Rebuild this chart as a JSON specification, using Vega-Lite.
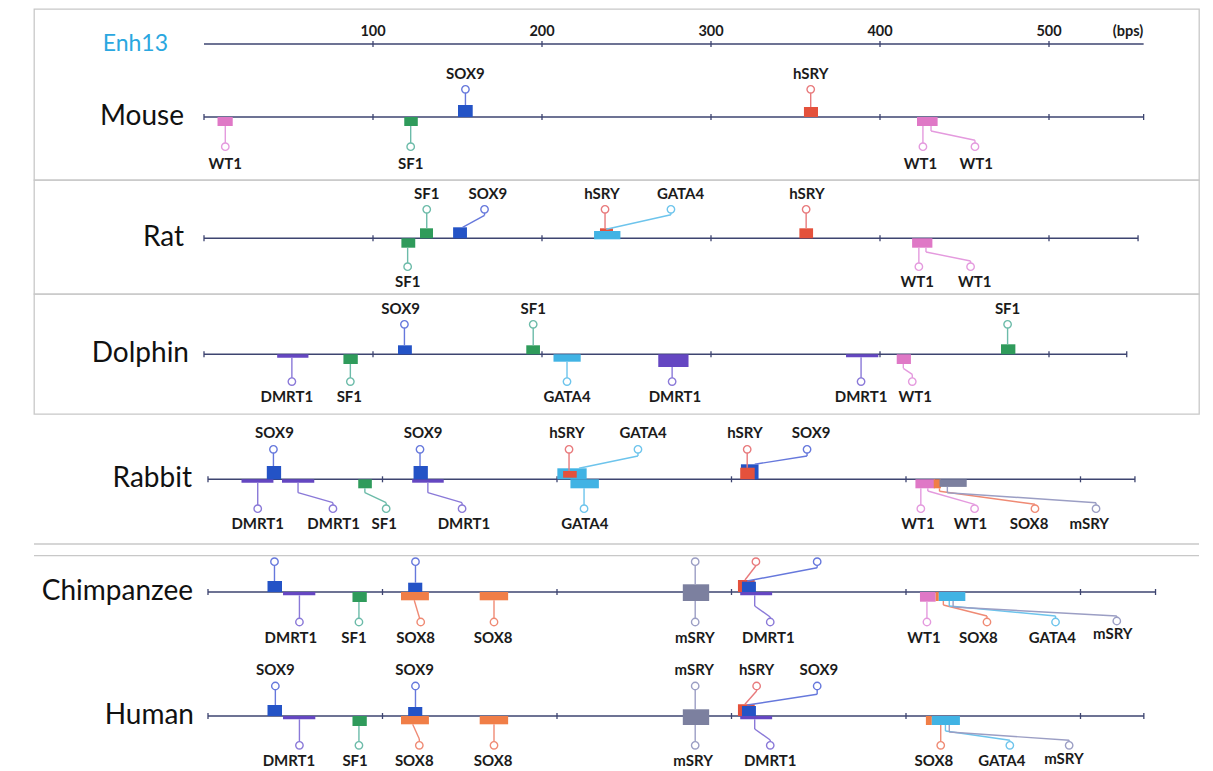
{
"$schema":"https://vega.github.io/schema/vega-lite/v6.json",
"padding":{"left":33,"top":8,"right":15,"bottom":0},
"spacing":0,
"bounds":"flush",
"config":{"axis":{"disable":true},"legend":{"disable":true},"text":{"font":"Lato"}},
"resolve":{"scale":{"x":"independent","y":"independent"}},
"datasets":{
"tracks":[
{"sp":"Enh13","s":0,"e":556},
{"sp":"Mouse","s":0,"e":556},
{"sp":"Rat","s":0,"e":552.7},
{"sp":"Dolphin","s":0,"e":546},
{"sp":"Rabbit","s":0,"e":531.2},
{"sp":"Chimpanzee","s":0,"e":543},
{"sp":"Human","s":0,"e":536.3}
],
"ticks":[
{"sp":"Enh13","bp":100},{"sp":"Enh13","bp":200},{"sp":"Enh13","bp":300},{"sp":"Enh13","bp":400},{"sp":"Enh13","bp":500},
{"sp":"Mouse","bp":0},{"sp":"Mouse","bp":100},{"sp":"Mouse","bp":200},{"sp":"Mouse","bp":300},{"sp":"Mouse","bp":400},{"sp":"Mouse","bp":500},{"sp":"Mouse","bp":556},
{"sp":"Rat","bp":0},{"sp":"Rat","bp":100},{"sp":"Rat","bp":200},{"sp":"Rat","bp":300},{"sp":"Rat","bp":400},{"sp":"Rat","bp":500},{"sp":"Rat","bp":552.7},
{"sp":"Dolphin","bp":0},{"sp":"Dolphin","bp":100},{"sp":"Dolphin","bp":200},{"sp":"Dolphin","bp":300},{"sp":"Dolphin","bp":400},{"sp":"Dolphin","bp":500},{"sp":"Dolphin","bp":546},
{"sp":"Rabbit","bp":0},{"sp":"Rabbit","bp":100},{"sp":"Rabbit","bp":200},{"sp":"Rabbit","bp":300},{"sp":"Rabbit","bp":400},{"sp":"Rabbit","bp":500},{"sp":"Rabbit","bp":531.2},
{"sp":"Chimpanzee","bp":0},{"sp":"Chimpanzee","bp":100},{"sp":"Chimpanzee","bp":200},{"sp":"Chimpanzee","bp":300},{"sp":"Chimpanzee","bp":400},{"sp":"Chimpanzee","bp":500},{"sp":"Chimpanzee","bp":543},
{"sp":"Human","bp":0},{"sp":"Human","bp":100},{"sp":"Human","bp":200},{"sp":"Human","bp":300},{"sp":"Human","bp":400},{"sp":"Human","bp":500},{"sp":"Human","bp":536.3}
],
"rl":[{"bp":100,"t":"100"},{"bp":200,"t":"200"},{"bp":300,"t":"300"},{"bp":400,"t":"400"},{"bp":500,"t":"500"},{"bp":546.7,"t":"(bps)"}],
"sites":[
{"sp":"Mouse","f":"WT1","s":8,"e":17,"lo":-9,"hi":0},
{"sp":"Mouse","f":"SF1","s":118.5,"e":126.5,"lo":-9,"hi":0},
{"sp":"Mouse","f":"SOX9","s":150.3,"e":159,"lo":0,"hi":12},
{"sp":"Mouse","f":"hSRY","s":355,"e":363.3,"lo":0,"hi":10},
{"sp":"Mouse","f":"WT1","s":421.9,"e":434.1,"lo":-9,"hi":0},
{"sp":"Rat","f":"SF1","s":116.8,"e":125,"lo":-9.4,"hi":0},
{"sp":"Rat","f":"SF1","s":127.8,"e":135.5,"lo":0,"hi":10},
{"sp":"Rat","f":"SOX9","s":147.4,"e":155.6,"lo":0,"hi":11},
{"sp":"Rat","f":"GATA4","s":230.8,"e":246.4,"lo":-1,"hi":7.3},
{"sp":"Rat","f":"hSRY","s":234.3,"e":242,"lo":7.3,"hi":10},
{"sp":"Rat","f":"hSRY","s":352.3,"e":360.4,"lo":0,"hi":10},
{"sp":"Rat","f":"WT1","s":419,"e":431,"lo":-9.4,"hi":0},
{"sp":"Dolphin","f":"DMRT1","s":43.3,"e":61.8,"lo":-3.4,"hi":0},
{"sp":"Dolphin","f":"SF1","s":82.5,"e":91,"lo":-9.7,"hi":0},
{"sp":"Dolphin","f":"SOX9","s":114.8,"e":123,"lo":0,"hi":9},
{"sp":"Dolphin","f":"SF1","s":190.7,"e":198.8,"lo":0,"hi":9},
{"sp":"Dolphin","f":"GATA4","s":206.8,"e":222.9,"lo":-7.4,"hi":0},
{"sp":"Dolphin","f":"DMRT1","s":268.8,"e":286.7,"lo":-12.7,"hi":0},
{"sp":"Dolphin","f":"DMRT1","s":379.9,"e":399,"lo":-3,"hi":0},
{"sp":"Dolphin","f":"WT1","s":409.9,"e":418.3,"lo":-9.7,"hi":0},
{"sp":"Dolphin","f":"SF1","s":471.6,"e":480.1,"lo":0,"hi":10},
{"sp":"Rabbit","f":"DMRT1","s":19.2,"e":37.5,"lo":-3.4,"hi":0},
{"sp":"Rabbit","f":"SOX9","s":33.7,"e":41.9,"lo":0,"hi":13.3},
{"sp":"Rabbit","f":"DMRT1","s":42.4,"e":60.9,"lo":-3.4,"hi":0},
{"sp":"Rabbit","f":"SF1","s":86.1,"e":93.9,"lo":-9,"hi":0},
{"sp":"Rabbit","f":"DMRT1","s":117,"e":135.1,"lo":-3.4,"hi":0},
{"sp":"Rabbit","f":"SOX9","s":117.8,"e":126,"lo":0,"hi":13.3},
{"sp":"Rabbit","f":"GATA4","s":200.2,"e":217,"lo":0,"hi":11},
{"sp":"Rabbit","f":"hSRY","s":203.5,"e":211.3,"lo":1.6,"hi":8.3},
{"sp":"Rabbit","f":"GATA4","s":207.7,"e":224,"lo":-9,"hi":0},
{"sp":"Rabbit","f":"SOX9","s":305.4,"e":315.5,"lo":0,"hi":15},
{"sp":"Rabbit","f":"hSRY","s":305,"e":313.3,"lo":0,"hi":11.6},
{"sp":"Rabbit","f":"WT1","s":405.4,"e":416.6,"lo":-9,"hi":0},
{"sp":"Rabbit","f":"SOX8","s":415.9,"e":420,"lo":-9,"hi":0},
{"sp":"Rabbit","f":"mSRY","s":419.2,"e":434.8,"lo":-7.6,"hi":0},
{"sp":"Chimpanzee","f":"SOX9","s":34.1,"e":42.4,"lo":0,"hi":11},
{"sp":"Chimpanzee","f":"DMRT1","s":43,"e":61.5,"lo":-3.3,"hi":0},
{"sp":"Chimpanzee","f":"SF1","s":82.8,"e":91,"lo":-10,"hi":0},
{"sp":"Chimpanzee","f":"SOX9","s":114.7,"e":122.8,"lo":0,"hi":9.3},
{"sp":"Chimpanzee","f":"SOX8","s":110.6,"e":126.6,"lo":-8.3,"hi":0},
{"sp":"Chimpanzee","f":"SOX8","s":155.7,"e":172,"lo":-8.3,"hi":0},
{"sp":"Chimpanzee","f":"mSRY","s":272.1,"e":287.2,"lo":-9,"hi":7.7},
{"sp":"Chimpanzee","f":"hSRY","s":303.7,"e":313.3,"lo":0,"hi":12},
{"sp":"Chimpanzee","f":"SOX9","s":306,"e":314,"lo":0,"hi":10.3},
{"sp":"Chimpanzee","f":"DMRT1","s":305,"e":323.3,"lo":-3.3,"hi":0},
{"sp":"Chimpanzee","f":"WT1","s":408,"e":417,"lo":-9.7,"hi":0},
{"sp":"Chimpanzee","f":"SOX8","s":417,"e":418.8,"lo":-9,"hi":0},
{"sp":"Chimpanzee","f":"GATA4","s":418.8,"e":434,"lo":-9,"hi":0},
{"sp":"Human","f":"SOX9","s":34.1,"e":42.4,"lo":0,"hi":11},
{"sp":"Human","f":"DMRT1","s":43,"e":61.5,"lo":-3.3,"hi":0},
{"sp":"Human","f":"SF1","s":82.8,"e":91,"lo":-10,"hi":0},
{"sp":"Human","f":"SOX9","s":114.7,"e":122.8,"lo":0,"hi":9},
{"sp":"Human","f":"SOX8","s":110.6,"e":126.6,"lo":-8.3,"hi":0},
{"sp":"Human","f":"SOX8","s":155.7,"e":172,"lo":-8.3,"hi":0},
{"sp":"Human","f":"mSRY","s":272.1,"e":287.2,"lo":-9,"hi":6.7},
{"sp":"Human","f":"hSRY","s":303.7,"e":313.3,"lo":0,"hi":11.7},
{"sp":"Human","f":"SOX9","s":306,"e":314,"lo":0,"hi":10},
{"sp":"Human","f":"DMRT1","s":305,"e":323.3,"lo":-3.3,"hi":0},
{"sp":"Human","f":"SOX8","s":411.4,"e":414.8,"lo":-9,"hi":0},
{"sp":"Human","f":"GATA4","s":414.8,"e":430.9,"lo":-9,"hi":0}
],
"links":[
{"sp":"Mouse","f":"WT1","x1":12.6,"y1":-9,"x2":12.6,"y2":-29.7},
{"sp":"Mouse","f":"SF1","x1":122.3,"y1":-9,"x2":122.3,"y2":-29.7},
{"sp":"Mouse","f":"SOX9","x1":154.7,"y1":12,"x2":154.7,"y2":27.7},
{"sp":"Mouse","f":"hSRY","x1":359,"y1":10,"x2":359,"y2":27.7},
{"sp":"Mouse","f":"WT1","x1":425.4,"y1":-9,"x2":425.4,"y2":-29.7},
{"sp":"Mouse","f":"WT1","x1":430.2,"y1":-9,"x2":430.2,"y2":-14},
{"sp":"Mouse","f":"WT1","x1":430.2,"y1":-14,"x2":456.2,"y2":-23.3},
{"sp":"Mouse","f":"WT1","x1":456.2,"y1":-23.3,"x2":456.2,"y2":-29.7},
{"sp":"Rat","f":"SF1","x1":120.5,"y1":-9.4,"x2":120.5,"y2":-28.4},
{"sp":"Rat","f":"SF1","x1":131.8,"y1":10,"x2":131.8,"y2":29},
{"sp":"Rat","f":"SOX9","x1":153,"y1":11,"x2":166,"y2":23},
{"sp":"Rat","f":"SOX9","x1":166,"y1":23,"x2":166,"y2":29},
{"sp":"Rat","f":"hSRY","x1":237.3,"y1":10,"x2":237.3,"y2":29},
{"sp":"Rat","f":"GATA4","x1":238,"y1":9,"x2":276.3,"y2":23.5},
{"sp":"Rat","f":"GATA4","x1":276.3,"y1":23.5,"x2":276.3,"y2":29},
{"sp":"Rat","f":"hSRY","x1":356.3,"y1":10,"x2":356.3,"y2":29},
{"sp":"Rat","f":"WT1","x1":423,"y1":-9.4,"x2":423,"y2":-28.4},
{"sp":"Rat","f":"WT1","x1":427.2,"y1":-9.4,"x2":427.2,"y2":-13.7},
{"sp":"Rat","f":"WT1","x1":427.2,"y1":-13.7,"x2":453.6,"y2":-22.7},
{"sp":"Rat","f":"WT1","x1":453.6,"y1":-22.7,"x2":453.6,"y2":-28.4},
{"sp":"Dolphin","f":"DMRT1","x1":52,"y1":-3.4,"x2":52,"y2":-27.3},
{"sp":"Dolphin","f":"SF1","x1":86.6,"y1":-9.7,"x2":86.6,"y2":-27.3},
{"sp":"Dolphin","f":"SOX9","x1":118.6,"y1":9,"x2":118.6,"y2":30},
{"sp":"Dolphin","f":"SF1","x1":194.8,"y1":9,"x2":194.8,"y2":30},
{"sp":"Dolphin","f":"GATA4","x1":214.8,"y1":-7.4,"x2":214.8,"y2":-27.3},
{"sp":"Dolphin","f":"DMRT1","x1":277,"y1":-12.7,"x2":277,"y2":-27.3},
{"sp":"Dolphin","f":"DMRT1","x1":388.8,"y1":-3,"x2":388.8,"y2":-27.3},
{"sp":"Dolphin","f":"WT1","x1":413.8,"y1":-9.7,"x2":413.8,"y2":-14},
{"sp":"Dolphin","f":"WT1","x1":413.8,"y1":-14,"x2":419.1,"y2":-20},
{"sp":"Dolphin","f":"WT1","x1":419.1,"y1":-20,"x2":419.1,"y2":-27.3},
{"sp":"Dolphin","f":"SF1","x1":475.5,"y1":10,"x2":475.5,"y2":30},
{"sp":"Rabbit","f":"SOX9","x1":37.5,"y1":13.3,"x2":37.5,"y2":30},
{"sp":"Rabbit","f":"DMRT1","x1":28.5,"y1":-3.4,"x2":28.5,"y2":-29.4},
{"sp":"Rabbit","f":"DMRT1","x1":51.6,"y1":-3.4,"x2":51.6,"y2":-13.4},
{"sp":"Rabbit","f":"DMRT1","x1":51.6,"y1":-13.4,"x2":71.6,"y2":-23.4},
{"sp":"Rabbit","f":"DMRT1","x1":71.6,"y1":-23.4,"x2":71.6,"y2":-29.4},
{"sp":"Rabbit","f":"SF1","x1":89.9,"y1":-9,"x2":89.9,"y2":-13.4},
{"sp":"Rabbit","f":"SF1","x1":89.9,"y1":-13.4,"x2":102.1,"y2":-23.4},
{"sp":"Rabbit","f":"SF1","x1":102.1,"y1":-23.4,"x2":102.1,"y2":-29.4},
{"sp":"Rabbit","f":"SOX9","x1":121.5,"y1":13.3,"x2":121.5,"y2":30},
{"sp":"Rabbit","f":"DMRT1","x1":126,"y1":-3.4,"x2":126,"y2":-13.4},
{"sp":"Rabbit","f":"DMRT1","x1":126,"y1":-13.4,"x2":145.6,"y2":-23.4},
{"sp":"Rabbit","f":"DMRT1","x1":145.6,"y1":-23.4,"x2":145.6,"y2":-29.4},
{"sp":"Rabbit","f":"hSRY","x1":206.9,"y1":8.3,"x2":206.9,"y2":30},
{"sp":"Rabbit","f":"GATA4","x1":212.6,"y1":11,"x2":246.4,"y2":23.3},
{"sp":"Rabbit","f":"GATA4","x1":246.4,"y1":23.3,"x2":246.4,"y2":30},
{"sp":"Rabbit","f":"GATA4","x1":215.5,"y1":-9,"x2":215.5,"y2":-29.4},
{"sp":"Rabbit","f":"hSRY","x1":309,"y1":11.6,"x2":309,"y2":30},
{"sp":"Rabbit","f":"SOX9","x1":313.3,"y1":15,"x2":343.3,"y2":23.3},
{"sp":"Rabbit","f":"SOX9","x1":343.3,"y1":23.3,"x2":343.3,"y2":30},
{"sp":"Rabbit","f":"WT1","x1":408.5,"y1":-9,"x2":408.5,"y2":-29.4},
{"sp":"Rabbit","f":"WT1","x1":412.5,"y1":-9,"x2":412.5,"y2":-11.7},
{"sp":"Rabbit","f":"WT1","x1":412.5,"y1":-11.7,"x2":439.3,"y2":-25},
{"sp":"Rabbit","f":"WT1","x1":439.3,"y1":-25,"x2":439.3,"y2":-29.4},
{"sp":"Rabbit","f":"SOX8","x1":419.2,"y1":-9,"x2":419.2,"y2":-12},
{"sp":"Rabbit","f":"SOX8","x1":419.2,"y1":-12,"x2":473.9,"y2":-25},
{"sp":"Rabbit","f":"SOX8","x1":473.9,"y1":-25,"x2":473.9,"y2":-29.4},
{"sp":"Rabbit","f":"mSRY","x1":423.7,"y1":-7.6,"x2":423.7,"y2":-13.4},
{"sp":"Rabbit","f":"mSRY","x1":423.7,"y1":-13.4,"x2":508.9,"y2":-23.4},
{"sp":"Rabbit","f":"mSRY","x1":508.9,"y1":-23.4,"x2":508.9,"y2":-29.4},
{"sp":"Chimpanzee","f":"SOX9","x1":38.1,"y1":11,"x2":38.1,"y2":30.3},
{"sp":"Chimpanzee","f":"DMRT1","x1":52.4,"y1":-3.3,"x2":52.4,"y2":-30},
{"sp":"Chimpanzee","f":"SF1","x1":86.5,"y1":-10,"x2":86.5,"y2":-30},
{"sp":"Chimpanzee","f":"SOX9","x1":118.9,"y1":9.3,"x2":118.9,"y2":30.3},
{"sp":"Chimpanzee","f":"SOX8","x1":118.2,"y1":-8.3,"x2":121.9,"y2":-30},
{"sp":"Chimpanzee","f":"SOX8","x1":163.9,"y1":-8.3,"x2":163.9,"y2":-30},
{"sp":"Chimpanzee","f":"mSRY","x1":279.2,"y1":7.7,"x2":279.2,"y2":30.3},
{"sp":"Chimpanzee","f":"mSRY","x1":279.2,"y1":-9,"x2":279.2,"y2":-30},
{"sp":"Chimpanzee","f":"hSRY","x1":307.7,"y1":12,"x2":314,"y2":26.3},
{"sp":"Chimpanzee","f":"hSRY","x1":314,"y1":26.3,"x2":314,"y2":30.3},
{"sp":"Chimpanzee","f":"SOX9","x1":309,"y1":11,"x2":349.1,"y2":24.3},
{"sp":"Chimpanzee","f":"SOX9","x1":349.1,"y1":24.3,"x2":349.1,"y2":30.3},
{"sp":"Chimpanzee","f":"DMRT1","x1":313.3,"y1":-3.3,"x2":313.3,"y2":-14},
{"sp":"Chimpanzee","f":"DMRT1","x1":313.3,"y1":-14,"x2":322.2,"y2":-25},
{"sp":"Chimpanzee","f":"DMRT1","x1":322.2,"y1":-25,"x2":322.2,"y2":-30},
{"sp":"Chimpanzee","f":"WT1","x1":412,"y1":-9.7,"x2":412,"y2":-30},
{"sp":"Chimpanzee","f":"SOX8","x1":421.4,"y1":-9,"x2":421.4,"y2":-13},
{"sp":"Chimpanzee","f":"SOX8","x1":421.4,"y1":-13,"x2":446.4,"y2":-24},
{"sp":"Chimpanzee","f":"SOX8","x1":446.4,"y1":-24,"x2":446.4,"y2":-30},
{"sp":"Chimpanzee","f":"GATA4","x1":424.8,"y1":-9,"x2":424.8,"y2":-14},
{"sp":"Chimpanzee","f":"GATA4","x1":424.8,"y1":-14,"x2":485.7,"y2":-24},
{"sp":"Chimpanzee","f":"GATA4","x1":485.7,"y1":-24,"x2":485.7,"y2":-30},
{"sp":"Chimpanzee","f":"mSRY","x1":427,"y1":-9,"x2":427,"y2":-15},
{"sp":"Chimpanzee","f":"mSRY","x1":427,"y1":-15,"x2":520.8,"y2":-24},
{"sp":"Chimpanzee","f":"mSRY","x1":520.8,"y1":-24,"x2":520.8,"y2":-29},
{"sp":"Human","f":"SOX9","x1":38.6,"y1":11,"x2":38.6,"y2":30},
{"sp":"Human","f":"DMRT1","x1":52.4,"y1":-3.3,"x2":52.4,"y2":-29.3},
{"sp":"Human","f":"SF1","x1":86.5,"y1":-10,"x2":86.5,"y2":-29.3},
{"sp":"Human","f":"SOX9","x1":118.9,"y1":9,"x2":118.9,"y2":30},
{"sp":"Human","f":"SOX8","x1":117.3,"y1":-8.3,"x2":121.1,"y2":-23},
{"sp":"Human","f":"SOX8","x1":121.1,"y1":-23,"x2":121.1,"y2":-29.3},
{"sp":"Human","f":"SOX8","x1":163.9,"y1":-8.3,"x2":163.9,"y2":-29.3},
{"sp":"Human","f":"mSRY","x1":279.2,"y1":6.7,"x2":279.2,"y2":30},
{"sp":"Human","f":"mSRY","x1":279.2,"y1":-9,"x2":279.2,"y2":-29.3},
{"sp":"Human","f":"hSRY","x1":307.7,"y1":11.7,"x2":314.4,"y2":25},
{"sp":"Human","f":"hSRY","x1":314.4,"y1":25,"x2":314.4,"y2":30},
{"sp":"Human","f":"SOX9","x1":309,"y1":11,"x2":349.1,"y2":21.7},
{"sp":"Human","f":"SOX9","x1":349.1,"y1":21.7,"x2":349.1,"y2":30},
{"sp":"Human","f":"DMRT1","x1":313.3,"y1":-3.3,"x2":313.3,"y2":-13},
{"sp":"Human","f":"DMRT1","x1":313.3,"y1":-13,"x2":322.2,"y2":-24},
{"sp":"Human","f":"DMRT1","x1":322.2,"y1":-24,"x2":322.2,"y2":-29.3},
{"sp":"Human","f":"SOX8","x1":419.9,"y1":-9,"x2":419.9,"y2":-29.3},
{"sp":"Human","f":"GATA4","x1":422.6,"y1":-9,"x2":422.6,"y2":-15},
{"sp":"Human","f":"GATA4","x1":422.6,"y1":-15,"x2":459.5,"y2":-24.3},
{"sp":"Human","f":"GATA4","x1":459.5,"y1":-24.3,"x2":459.5,"y2":-29.3},
{"sp":"Human","f":"mSRY","x1":424.8,"y1":-9,"x2":424.8,"y2":-16},
{"sp":"Human","f":"mSRY","x1":424.8,"y1":-16,"x2":493.5,"y2":-24.3},
{"sp":"Human","f":"mSRY","x1":493.5,"y1":-24.3,"x2":493.5,"y2":-29.3}
],
"ends":[
{"sp":"Mouse","f":"WT1","cx":12.6,"cy":-29.7,"lx":12.6,"ly":-47,"lab":"WT1"},
{"sp":"Mouse","f":"SF1","cx":122.3,"cy":-29.7,"lx":122.3,"ly":-47,"lab":"SF1"},
{"sp":"Mouse","f":"SOX9","cx":154.7,"cy":27.7,"lx":154.7,"ly":43.3,"lab":"SOX9"},
{"sp":"Mouse","f":"hSRY","cx":359,"cy":27.7,"lx":359,"ly":43.3,"lab":"hSRY"},
{"sp":"Mouse","f":"WT1","cx":425.4,"cy":-29.7,"lx":424,"ly":-47,"lab":"WT1"},
{"sp":"Mouse","f":"WT1","cx":456.2,"cy":-29.7,"lx":457,"ly":-47,"lab":"WT1"},
{"sp":"Rat","f":"SF1","cx":120.5,"cy":-28.4,"lx":120.5,"ly":-44,"lab":"SF1"},
{"sp":"Rat","f":"SF1","cx":131.8,"cy":29,"lx":131.8,"ly":44,"lab":"SF1"},
{"sp":"Rat","f":"SOX9","cx":166,"cy":29,"lx":168,"ly":44,"lab":"SOX9"},
{"sp":"Rat","f":"hSRY","cx":237.3,"cy":29,"lx":235.5,"ly":44,"lab":"hSRY"},
{"sp":"Rat","f":"GATA4","cx":276.3,"cy":29,"lx":282,"ly":44,"lab":"GATA4"},
{"sp":"Rat","f":"hSRY","cx":356.3,"cy":29,"lx":356.8,"ly":44,"lab":"hSRY"},
{"sp":"Rat","f":"WT1","cx":423,"cy":-28.4,"lx":422,"ly":-44,"lab":"WT1"},
{"sp":"Rat","f":"WT1","cx":453.6,"cy":-28.4,"lx":456,"ly":-44,"lab":"WT1"},
{"sp":"Dolphin","f":"DMRT1","cx":52,"cy":-27.3,"lx":49,"ly":-42.7,"lab":"DMRT1"},
{"sp":"Dolphin","f":"SF1","cx":86.6,"cy":-27.3,"lx":86,"ly":-42.7,"lab":"SF1"},
{"sp":"Dolphin","f":"SOX9","cx":118.6,"cy":30,"lx":116.3,"ly":45,"lab":"SOX9"},
{"sp":"Dolphin","f":"SF1","cx":194.8,"cy":30,"lx":194.8,"ly":45,"lab":"SF1"},
{"sp":"Dolphin","f":"GATA4","cx":214.8,"cy":-27.3,"lx":214.8,"ly":-42.7,"lab":"GATA4"},
{"sp":"Dolphin","f":"DMRT1","cx":277,"cy":-27.3,"lx":278.7,"ly":-42.7,"lab":"DMRT1"},
{"sp":"Dolphin","f":"DMRT1","cx":388.8,"cy":-27.3,"lx":388.8,"ly":-42.7,"lab":"DMRT1"},
{"sp":"Dolphin","f":"WT1","cx":419.1,"cy":-27.3,"lx":420.9,"ly":-42.7,"lab":"WT1"},
{"sp":"Dolphin","f":"SF1","cx":475.5,"cy":30,"lx":475.5,"ly":45,"lab":"SF1"},
{"sp":"Rabbit","f":"SOX9","cx":37.5,"cy":30,"lx":38.1,"ly":46.6,"lab":"SOX9"},
{"sp":"Rabbit","f":"DMRT1","cx":28.5,"cy":-29.4,"lx":28.5,"ly":-45,"lab":"DMRT1"},
{"sp":"Rabbit","f":"DMRT1","cx":71.6,"cy":-29.4,"lx":72,"ly":-45,"lab":"DMRT1"},
{"sp":"Rabbit","f":"SF1","cx":102.1,"cy":-29.4,"lx":101,"ly":-45,"lab":"SF1"},
{"sp":"Rabbit","f":"SOX9","cx":121.5,"cy":30,"lx":123.3,"ly":46.6,"lab":"SOX9"},
{"sp":"Rabbit","f":"DMRT1","cx":145.6,"cy":-29.4,"lx":146.7,"ly":-45,"lab":"DMRT1"},
{"sp":"Rabbit","f":"hSRY","cx":206.9,"cy":30,"lx":205.7,"ly":46.6,"lab":"hSRY"},
{"sp":"Rabbit","f":"GATA4","cx":246.4,"cy":30,"lx":249.3,"ly":46.6,"lab":"GATA4"},
{"sp":"Rabbit","f":"GATA4","cx":215.5,"cy":-29.4,"lx":215.9,"ly":-45,"lab":"GATA4"},
{"sp":"Rabbit","f":"hSRY","cx":309,"cy":30,"lx":307.7,"ly":46.6,"lab":"hSRY"},
{"sp":"Rabbit","f":"SOX9","cx":343.3,"cy":30,"lx":345.6,"ly":46.6,"lab":"SOX9"},
{"sp":"Rabbit","f":"WT1","cx":408.5,"cy":-29.4,"lx":406.9,"ly":-45,"lab":"WT1"},
{"sp":"Rabbit","f":"WT1","cx":439.3,"cy":-29.4,"lx":437,"ly":-45,"lab":"WT1"},
{"sp":"Rabbit","f":"SOX8","cx":473.9,"cy":-29.4,"lx":470.5,"ly":-45,"lab":"SOX8"},
{"sp":"Rabbit","f":"mSRY","cx":508.9,"cy":-29.4,"lx":505,"ly":-45,"lab":"mSRY"},
{"sp":"Chimpanzee","f":"SOX9","cx":38.1,"cy":30.3,"lx":38.1,"ly":46,"lab":""},
{"sp":"Chimpanzee","f":"DMRT1","cx":52.4,"cy":-30,"lx":47.5,"ly":-45.7,"lab":"DMRT1"},
{"sp":"Chimpanzee","f":"SF1","cx":86.5,"cy":-30,"lx":83.7,"ly":-45.7,"lab":"SF1"},
{"sp":"Chimpanzee","f":"SOX9","cx":118.9,"cy":30.3,"lx":118.9,"ly":46,"lab":""},
{"sp":"Chimpanzee","f":"SOX8","cx":121.9,"cy":-30,"lx":119,"ly":-45.7,"lab":"SOX8"},
{"sp":"Chimpanzee","f":"SOX8","cx":163.9,"cy":-30,"lx":163.4,"ly":-45.7,"lab":"SOX8"},
{"sp":"Chimpanzee","f":"mSRY","cx":279.2,"cy":30.3,"lx":279.2,"ly":46,"lab":""},
{"sp":"Chimpanzee","f":"mSRY","cx":279.2,"cy":-30,"lx":279,"ly":-45.7,"lab":"mSRY"},
{"sp":"Chimpanzee","f":"hSRY","cx":314,"cy":30.3,"lx":314,"ly":46,"lab":""},
{"sp":"Chimpanzee","f":"SOX9","cx":349.1,"cy":30.3,"lx":349.1,"ly":46,"lab":""},
{"sp":"Chimpanzee","f":"DMRT1","cx":322.2,"cy":-30,"lx":321.1,"ly":-45.7,"lab":"DMRT1"},
{"sp":"Chimpanzee","f":"WT1","cx":412,"cy":-30,"lx":410.3,"ly":-45.7,"lab":"WT1"},
{"sp":"Chimpanzee","f":"SOX8","cx":446.4,"cy":-30,"lx":441.5,"ly":-45.7,"lab":"SOX8"},
{"sp":"Chimpanzee","f":"GATA4","cx":485.7,"cy":-30,"lx":483.9,"ly":-45.7,"lab":"GATA4"},
{"sp":"Chimpanzee","f":"mSRY","cx":520.8,"cy":-29,"lx":518.5,"ly":-42,"lab":"mSRY"},
{"sp":"Human","f":"SOX9","cx":38.6,"cy":30,"lx":38.6,"ly":46,"lab":"SOX9"},
{"sp":"Human","f":"DMRT1","cx":52.4,"cy":-29.3,"lx":46.4,"ly":-45,"lab":"DMRT1"},
{"sp":"Human","f":"SF1","cx":86.5,"cy":-29.3,"lx":84.3,"ly":-45,"lab":"SF1"},
{"sp":"Human","f":"SOX9","cx":118.9,"cy":30,"lx":118.4,"ly":46,"lab":"SOX9"},
{"sp":"Human","f":"SOX8","cx":121.1,"cy":-29.3,"lx":118.2,"ly":-45,"lab":"SOX8"},
{"sp":"Human","f":"SOX8","cx":163.9,"cy":-29.3,"lx":163.4,"ly":-45,"lab":"SOX8"},
{"sp":"Human","f":"mSRY","cx":279.2,"cy":30,"lx":278.7,"ly":46,"lab":"mSRY"},
{"sp":"Human","f":"mSRY","cx":279.2,"cy":-29.3,"lx":278,"ly":-45,"lab":"mSRY"},
{"sp":"Human","f":"hSRY","cx":314.4,"cy":30,"lx":314.4,"ly":46,"lab":"hSRY"},
{"sp":"Human","f":"SOX9","cx":349.1,"cy":30,"lx":350.1,"ly":46,"lab":"SOX9"},
{"sp":"Human","f":"DMRT1","cx":322.2,"cy":-29.3,"lx":322.2,"ly":-45,"lab":"DMRT1"},
{"sp":"Human","f":"SOX8","cx":419.9,"cy":-29.3,"lx":416,"ly":-45,"lab":"SOX8"},
{"sp":"Human","f":"GATA4","cx":459.5,"cy":-29.3,"lx":454.9,"ly":-45,"lab":"GATA4"},
{"sp":"Human","f":"mSRY","cx":493.5,"cy":-29.3,"lx":490.5,"ly":-43.3,"lab":"mSRY"}
]
},
"vconcat":[
{"width":1165,"height":171,"view":{"stroke":"#c8c8c8","strokeWidth":1.3},
"layer":[
{"data":{"name":"tracks"},"transform":[{"filter":"datum.sp==='Enh13'"}],"mark":{"type":"rule","stroke":"#3d4470","strokeWidth":1.6},
 "encoding":{"x":{"field":"s","type":"quantitative","scale":{"domain":[-100.59,588.76],"nice":false,"zero":false}},"x2":{"field":"e"},"y":{"datum":73,"type":"quantitative","scale":{"domain":[-63,108],"nice":false,"zero":false}}}},
{"data":{"name":"ticks"},"transform":[{"filter":"datum.sp==='Enh13'"}],"mark":{"type":"rule","stroke":"#3d4470","strokeWidth":1.3},
 "encoding":{"x":{"field":"bp","type":"quantitative"},"y":{"datum":70,"type":"quantitative"},"y2":{"datum":76}}},
{"data":{"name":"rl"},"mark":{"type":"text","font":"Lato","fontWeight":"bold","fontSize":14.5,"fill":"#1b1b1b","baseline":"middle"},
 "encoding":{"x":{"field":"bp","type":"quantitative"},"y":{"datum":85.5,"type":"quantitative"},"text":{"field":"t"}}},
{"data":{"name":"tracks"},"transform":[{"filter":"datum.sp==='Enh13'"}],"mark":{"type":"text","font":"Lato","fontSize":23,"align":"right","baseline":"middle","dx":-36,"fill":"#2aa7e0"},
 "encoding":{"x":{"field":"s","type":"quantitative"},"y":{"datum":73,"type":"quantitative"},"text":{"field":"sp"}}},
{"data":{"name":"tracks"},"transform":[{"filter":"datum.sp==='Mouse'"}],"mark":{"type":"rule","stroke":"#3d4470","strokeWidth":1.6},
 "encoding":{"x":{"field":"s","type":"quantitative"},"x2":{"field":"e"},"y":{"datum":0,"type":"quantitative"}}},
{"data":{"name":"ticks"},"transform":[{"filter":"datum.sp==='Mouse'"}],"mark":{"type":"rule","stroke":"#3d4470","strokeWidth":1.3},
 "encoding":{"x":{"field":"bp","type":"quantitative"},"y":{"datum":-3,"type":"quantitative"},"y2":{"datum":3}}},
{"data":{"name":"sites"},"transform":[{"filter":"datum.sp==='Mouse'"}],"mark":{"type":"rect"},
 "encoding":{"x":{"field":"s","type":"quantitative"},"x2":{"field":"e"},"y":{"field":"lo","type":"quantitative"},"y2":{"field":"hi"},
 "fill":{"field":"f","type":"nominal","scale":{"domain":["SOX9","hSRY","WT1","SF1","GATA4","DMRT1","SOX8","mSRY"],"range":["#2453c6","#e4513c","#df78c6","#2f9b5b","#41b3e4","#6547c2","#f07e47","#7c809f"]},"legend":null}}},
{"data":{"name":"links"},"transform":[{"filter":"datum.sp==='Mouse'"}],"mark":{"type":"rule","strokeWidth":1.4},
 "encoding":{"x":{"field":"x1","type":"quantitative"},"x2":{"field":"x2"},"y":{"field":"y1","type":"quantitative"},"y2":{"field":"y2"},
 "stroke":{"field":"f","type":"nominal","scale":{"domain":["SOX9","hSRY","WT1","SF1","GATA4","DMRT1","SOX8","mSRY"],"range":["#6678dc","#e87a7c","#e49ade","#6cbba9","#6dc4ec","#8a79d8","#ef8a74","#9b9ec4"]},"legend":null}}},
{"data":{"name":"ends"},"transform":[{"filter":"datum.sp==='Mouse'"}],"mark":{"type":"point","shape":"circle","filled":true,"fill":"white","size":55,"strokeWidth":1.4,"opacity":1},
 "encoding":{"x":{"field":"cx","type":"quantitative"},"y":{"field":"cy","type":"quantitative"},"stroke":{"field":"f","type":"nominal","legend":null}}},
{"data":{"name":"ends"},"transform":[{"filter":"datum.sp==='Mouse' && datum.lab"}],"mark":{"type":"text","font":"Lato","fontWeight":"bold","fontSize":15,"fill":"#1b1b1b","baseline":"middle"},
 "encoding":{"x":{"field":"lx","type":"quantitative"},"y":{"field":"ly","type":"quantitative"},"text":{"field":"lab"}}},
{"data":{"name":"tracks"},"transform":[{"filter":"datum.sp==='Mouse'"}],"mark":{"type":"text","font":"Lato","fontSize":28,"align":"right","baseline":"middle","dx":-20,"fill":"#111111"},
 "encoding":{"x":{"field":"s","type":"quantitative"},"y":{"datum":0,"type":"quantitative"},"text":{"field":"sp"}}}
]},
{"width":1165,"height":114,"view":{"stroke":"#c8c8c8","strokeWidth":1.3},
"layer":[
{"data":{"name":"tracks"},"transform":[{"filter":"datum.sp==='Rat'"}],"mark":{"type":"rule","stroke":"#3d4470","strokeWidth":1.6},
 "encoding":{"x":{"field":"s","type":"quantitative","scale":{"domain":[-100.59,588.76],"nice":false,"zero":false}},"x2":{"field":"e"},"y":{"datum":0,"type":"quantitative","scale":{"domain":[-55.7,58.3],"nice":false,"zero":false}}}},
{"data":{"name":"ticks"},"transform":[{"filter":"datum.sp==='Rat'"}],"mark":{"type":"rule","stroke":"#3d4470","strokeWidth":1.3},
 "encoding":{"x":{"field":"bp","type":"quantitative"},"y":{"datum":-3,"type":"quantitative"},"y2":{"datum":3}}},
{"data":{"name":"sites"},"transform":[{"filter":"datum.sp==='Rat'"}],"mark":{"type":"rect"},
 "encoding":{"x":{"field":"s","type":"quantitative"},"x2":{"field":"e"},"y":{"field":"lo","type":"quantitative"},"y2":{"field":"hi"},
 "fill":{"field":"f","type":"nominal","scale":{"domain":["SOX9","hSRY","WT1","SF1","GATA4","DMRT1","SOX8","mSRY"],"range":["#2453c6","#e4513c","#df78c6","#2f9b5b","#41b3e4","#6547c2","#f07e47","#7c809f"]},"legend":null}}},
{"data":{"name":"links"},"transform":[{"filter":"datum.sp==='Rat'"}],"mark":{"type":"rule","strokeWidth":1.4},
 "encoding":{"x":{"field":"x1","type":"quantitative"},"x2":{"field":"x2"},"y":{"field":"y1","type":"quantitative"},"y2":{"field":"y2"},
 "stroke":{"field":"f","type":"nominal","scale":{"domain":["SOX9","hSRY","WT1","SF1","GATA4","DMRT1","SOX8","mSRY"],"range":["#6678dc","#e87a7c","#e49ade","#6cbba9","#6dc4ec","#8a79d8","#ef8a74","#9b9ec4"]},"legend":null}}},
{"data":{"name":"ends"},"transform":[{"filter":"datum.sp==='Rat'"}],"mark":{"type":"point","shape":"circle","filled":true,"fill":"white","size":55,"strokeWidth":1.4,"opacity":1},
 "encoding":{"x":{"field":"cx","type":"quantitative"},"y":{"field":"cy","type":"quantitative"},"stroke":{"field":"f","type":"nominal","legend":null}}},
{"data":{"name":"ends"},"transform":[{"filter":"datum.sp==='Rat' && datum.lab"}],"mark":{"type":"text","font":"Lato","fontWeight":"bold","fontSize":15,"fill":"#1b1b1b","baseline":"middle"},
 "encoding":{"x":{"field":"lx","type":"quantitative"},"y":{"field":"ly","type":"quantitative"},"text":{"field":"lab"}}},
{"data":{"name":"tracks"},"transform":[{"filter":"datum.sp==='Rat'"}],"mark":{"type":"text","font":"Lato","fontSize":28,"align":"right","baseline":"middle","dx":-20,"fill":"#111111"},
 "encoding":{"x":{"field":"s","type":"quantitative"},"y":{"datum":0,"type":"quantitative"},"text":{"field":"sp"}}}
]},
{"width":1165,"height":120,"view":{"stroke":"#c8c8c8","strokeWidth":1.3},
"layer":[
{"data":{"name":"tracks"},"transform":[{"filter":"datum.sp==='Dolphin'"}],"mark":{"type":"rule","stroke":"#3d4470","strokeWidth":1.6},
 "encoding":{"x":{"field":"s","type":"quantitative","scale":{"domain":[-100.59,588.76],"nice":false,"zero":false}},"x2":{"field":"e"},"y":{"datum":0,"type":"quantitative","scale":{"domain":[-59.7,60.3],"nice":false,"zero":false}}}},
{"data":{"name":"ticks"},"transform":[{"filter":"datum.sp==='Dolphin'"}],"mark":{"type":"rule","stroke":"#3d4470","strokeWidth":1.3},
 "encoding":{"x":{"field":"bp","type":"quantitative"},"y":{"datum":-3,"type":"quantitative"},"y2":{"datum":3}}},
{"data":{"name":"sites"},"transform":[{"filter":"datum.sp==='Dolphin'"}],"mark":{"type":"rect"},
 "encoding":{"x":{"field":"s","type":"quantitative"},"x2":{"field":"e"},"y":{"field":"lo","type":"quantitative"},"y2":{"field":"hi"},
 "fill":{"field":"f","type":"nominal","scale":{"domain":["SOX9","hSRY","WT1","SF1","GATA4","DMRT1","SOX8","mSRY"],"range":["#2453c6","#e4513c","#df78c6","#2f9b5b","#41b3e4","#6547c2","#f07e47","#7c809f"]},"legend":null}}},
{"data":{"name":"links"},"transform":[{"filter":"datum.sp==='Dolphin'"}],"mark":{"type":"rule","strokeWidth":1.4},
 "encoding":{"x":{"field":"x1","type":"quantitative"},"x2":{"field":"x2"},"y":{"field":"y1","type":"quantitative"},"y2":{"field":"y2"},
 "stroke":{"field":"f","type":"nominal","scale":{"domain":["SOX9","hSRY","WT1","SF1","GATA4","DMRT1","SOX8","mSRY"],"range":["#6678dc","#e87a7c","#e49ade","#6cbba9","#6dc4ec","#8a79d8","#ef8a74","#9b9ec4"]},"legend":null}}},
{"data":{"name":"ends"},"transform":[{"filter":"datum.sp==='Dolphin'"}],"mark":{"type":"point","shape":"circle","filled":true,"fill":"white","size":55,"strokeWidth":1.4,"opacity":1},
 "encoding":{"x":{"field":"cx","type":"quantitative"},"y":{"field":"cy","type":"quantitative"},"stroke":{"field":"f","type":"nominal","legend":null}}},
{"data":{"name":"ends"},"transform":[{"filter":"datum.sp==='Dolphin' && datum.lab"}],"mark":{"type":"text","font":"Lato","fontWeight":"bold","fontSize":15,"fill":"#1b1b1b","baseline":"middle"},
 "encoding":{"x":{"field":"lx","type":"quantitative"},"y":{"field":"ly","type":"quantitative"},"text":{"field":"lab"}}},
{"data":{"name":"tracks"},"transform":[{"filter":"datum.sp==='Dolphin'"}],"mark":{"type":"text","font":"Lato","fontSize":28,"align":"right","baseline":"middle","dx":-15,"fill":"#111111"},
 "encoding":{"x":{"field":"s","type":"quantitative"},"y":{"datum":0,"type":"quantitative"},"text":{"field":"sp"}}}
]},
{"width":1165,"height":141,"view":{"stroke":null},
"layer":[
{"data":{"name":"tracks"},"transform":[{"filter":"datum.sp==='Rabbit'"}],"mark":{"type":"rule","stroke":"#3d4470","strokeWidth":1.6},
 "encoding":{"x":{"field":"s","type":"quantitative","scale":{"domain":[-99.71,567.91],"nice":false,"zero":false}},"x2":{"field":"e"},"y":{"datum":0,"type":"quantitative","scale":{"domain":[-75.7,65.3],"nice":false,"zero":false}}}},
{"data":{"values":[{}]},"mark":{"type":"rule","stroke":"#c8c8c8","strokeWidth":1.3},"encoding":{"y":{"datum":-64.7,"type":"quantitative"}}},
{"data":{"name":"ticks"},"transform":[{"filter":"datum.sp==='Rabbit'"}],"mark":{"type":"rule","stroke":"#3d4470","strokeWidth":1.3},
 "encoding":{"x":{"field":"bp","type":"quantitative"},"y":{"datum":-3,"type":"quantitative"},"y2":{"datum":3}}},
{"data":{"name":"sites"},"transform":[{"filter":"datum.sp==='Rabbit'"}],"mark":{"type":"rect"},
 "encoding":{"x":{"field":"s","type":"quantitative"},"x2":{"field":"e"},"y":{"field":"lo","type":"quantitative"},"y2":{"field":"hi"},
 "fill":{"field":"f","type":"nominal","scale":{"domain":["SOX9","hSRY","WT1","SF1","GATA4","DMRT1","SOX8","mSRY"],"range":["#2453c6","#e4513c","#df78c6","#2f9b5b","#41b3e4","#6547c2","#f07e47","#7c809f"]},"legend":null}}},
{"data":{"name":"links"},"transform":[{"filter":"datum.sp==='Rabbit'"}],"mark":{"type":"rule","strokeWidth":1.4},
 "encoding":{"x":{"field":"x1","type":"quantitative"},"x2":{"field":"x2"},"y":{"field":"y1","type":"quantitative"},"y2":{"field":"y2"},
 "stroke":{"field":"f","type":"nominal","scale":{"domain":["SOX9","hSRY","WT1","SF1","GATA4","DMRT1","SOX8","mSRY"],"range":["#6678dc","#e87a7c","#e49ade","#6cbba9","#6dc4ec","#8a79d8","#ef8a74","#9b9ec4"]},"legend":null}}},
{"data":{"name":"ends"},"transform":[{"filter":"datum.sp==='Rabbit'"}],"mark":{"type":"point","shape":"circle","filled":true,"fill":"white","size":55,"strokeWidth":1.4,"opacity":1},
 "encoding":{"x":{"field":"cx","type":"quantitative"},"y":{"field":"cy","type":"quantitative"},"stroke":{"field":"f","type":"nominal","legend":null}}},
{"data":{"name":"ends"},"transform":[{"filter":"datum.sp==='Rabbit' && datum.lab"}],"mark":{"type":"text","font":"Lato","fontWeight":"bold","fontSize":15,"fill":"#1b1b1b","baseline":"middle"},
 "encoding":{"x":{"field":"lx","type":"quantitative"},"y":{"field":"ly","type":"quantitative"},"text":{"field":"lab"}}},
{"data":{"name":"tracks"},"transform":[{"filter":"datum.sp==='Rabbit'"}],"mark":{"type":"text","font":"Lato","fontSize":28,"align":"right","baseline":"middle","dx":-16,"fill":"#111111"},
 "encoding":{"x":{"field":"s","type":"quantitative"},"y":{"datum":0,"type":"quantitative"},"text":{"field":"sp"}}}
]},
{"width":1165,"height":98,"view":{"stroke":null},
"layer":[
{"data":{"name":"tracks"},"transform":[{"filter":"datum.sp==='Chimpanzee'"}],"mark":{"type":"rule","stroke":"#3d4470","strokeWidth":1.6},
 "encoding":{"x":{"field":"s","type":"quantitative","scale":{"domain":[-99.71,567.91],"nice":false,"zero":false}},"x2":{"field":"e"},"y":{"datum":0,"type":"quantitative","scale":{"domain":[-61,37],"nice":false,"zero":false}}}},
{"data":{"values":[{}]},"mark":{"type":"rule","stroke":"#c8c8c8","strokeWidth":1.3},"encoding":{"y":{"datum":36.3,"type":"quantitative"}}},
{"data":{"name":"ticks"},"transform":[{"filter":"datum.sp==='Chimpanzee'"}],"mark":{"type":"rule","stroke":"#3d4470","strokeWidth":1.3},
 "encoding":{"x":{"field":"bp","type":"quantitative"},"y":{"datum":-3,"type":"quantitative"},"y2":{"datum":3}}},
{"data":{"name":"sites"},"transform":[{"filter":"datum.sp==='Chimpanzee'"}],"mark":{"type":"rect"},
 "encoding":{"x":{"field":"s","type":"quantitative"},"x2":{"field":"e"},"y":{"field":"lo","type":"quantitative"},"y2":{"field":"hi"},
 "fill":{"field":"f","type":"nominal","scale":{"domain":["SOX9","hSRY","WT1","SF1","GATA4","DMRT1","SOX8","mSRY"],"range":["#2453c6","#e4513c","#df78c6","#2f9b5b","#41b3e4","#6547c2","#f07e47","#7c809f"]},"legend":null}}},
{"data":{"name":"links"},"transform":[{"filter":"datum.sp==='Chimpanzee'"}],"mark":{"type":"rule","strokeWidth":1.4},
 "encoding":{"x":{"field":"x1","type":"quantitative"},"x2":{"field":"x2"},"y":{"field":"y1","type":"quantitative"},"y2":{"field":"y2"},
 "stroke":{"field":"f","type":"nominal","scale":{"domain":["SOX9","hSRY","WT1","SF1","GATA4","DMRT1","SOX8","mSRY"],"range":["#6678dc","#e87a7c","#e49ade","#6cbba9","#6dc4ec","#8a79d8","#ef8a74","#9b9ec4"]},"legend":null}}},
{"data":{"name":"ends"},"transform":[{"filter":"datum.sp==='Chimpanzee'"}],"mark":{"type":"point","shape":"circle","filled":true,"fill":"white","size":55,"strokeWidth":1.4,"opacity":1},
 "encoding":{"x":{"field":"cx","type":"quantitative"},"y":{"field":"cy","type":"quantitative"},"stroke":{"field":"f","type":"nominal","legend":null}}},
{"data":{"name":"ends"},"transform":[{"filter":"datum.sp==='Chimpanzee' && datum.lab"}],"mark":{"type":"text","font":"Lato","fontWeight":"bold","fontSize":15,"fill":"#1b1b1b","baseline":"middle"},
 "encoding":{"x":{"field":"lx","type":"quantitative"},"y":{"field":"ly","type":"quantitative"},"text":{"field":"lab"}}},
{"data":{"name":"tracks"},"transform":[{"filter":"datum.sp==='Chimpanzee'"}],"mark":{"type":"text","font":"Lato","fontSize":28,"align":"right","baseline":"middle","dx":-15,"fill":"#111111"},
 "encoding":{"x":{"field":"s","type":"quantitative"},"y":{"datum":0,"type":"quantitative"},"text":{"field":"sp"}}}
]},
{"width":1165,"height":119,"view":{"stroke":null},
"layer":[
{"data":{"name":"tracks"},"transform":[{"filter":"datum.sp==='Human'"}],"mark":{"type":"rule","stroke":"#3d4470","strokeWidth":1.6},
 "encoding":{"x":{"field":"s","type":"quantitative","scale":{"domain":[-99.71,567.91],"nice":false,"zero":false}},"x2":{"field":"e"},"y":{"datum":0,"type":"quantitative","scale":{"domain":[-56,63],"nice":false,"zero":false}}}},
{"data":{"name":"ticks"},"transform":[{"filter":"datum.sp==='Human'"}],"mark":{"type":"rule","stroke":"#3d4470","strokeWidth":1.3},
 "encoding":{"x":{"field":"bp","type":"quantitative"},"y":{"datum":-3,"type":"quantitative"},"y2":{"datum":3}}},
{"data":{"name":"sites"},"transform":[{"filter":"datum.sp==='Human'"}],"mark":{"type":"rect"},
 "encoding":{"x":{"field":"s","type":"quantitative"},"x2":{"field":"e"},"y":{"field":"lo","type":"quantitative"},"y2":{"field":"hi"},
 "fill":{"field":"f","type":"nominal","scale":{"domain":["SOX9","hSRY","WT1","SF1","GATA4","DMRT1","SOX8","mSRY"],"range":["#2453c6","#e4513c","#df78c6","#2f9b5b","#41b3e4","#6547c2","#f07e47","#7c809f"]},"legend":null}}},
{"data":{"name":"links"},"transform":[{"filter":"datum.sp==='Human'"}],"mark":{"type":"rule","strokeWidth":1.4},
 "encoding":{"x":{"field":"x1","type":"quantitative"},"x2":{"field":"x2"},"y":{"field":"y1","type":"quantitative"},"y2":{"field":"y2"},
 "stroke":{"field":"f","type":"nominal","scale":{"domain":["SOX9","hSRY","WT1","SF1","GATA4","DMRT1","SOX8","mSRY"],"range":["#6678dc","#e87a7c","#e49ade","#6cbba9","#6dc4ec","#8a79d8","#ef8a74","#9b9ec4"]},"legend":null}}},
{"data":{"name":"ends"},"transform":[{"filter":"datum.sp==='Human'"}],"mark":{"type":"point","shape":"circle","filled":true,"fill":"white","size":55,"strokeWidth":1.4,"opacity":1},
 "encoding":{"x":{"field":"cx","type":"quantitative"},"y":{"field":"cy","type":"quantitative"},"stroke":{"field":"f","type":"nominal","legend":null}}},
{"data":{"name":"ends"},"transform":[{"filter":"datum.sp==='Human' && datum.lab"}],"mark":{"type":"text","font":"Lato","fontWeight":"bold","fontSize":15,"fill":"#1b1b1b","baseline":"middle"},
 "encoding":{"x":{"field":"lx","type":"quantitative"},"y":{"field":"ly","type":"quantitative"},"text":{"field":"lab"}}},
{"data":{"name":"tracks"},"transform":[{"filter":"datum.sp==='Human'"}],"mark":{"type":"text","font":"Lato","fontSize":28,"align":"right","baseline":"middle","dx":-14,"fill":"#111111"},
 "encoding":{"x":{"field":"s","type":"quantitative"},"y":{"datum":0,"type":"quantitative"},"text":{"field":"sp"}}}
]}
]
}
